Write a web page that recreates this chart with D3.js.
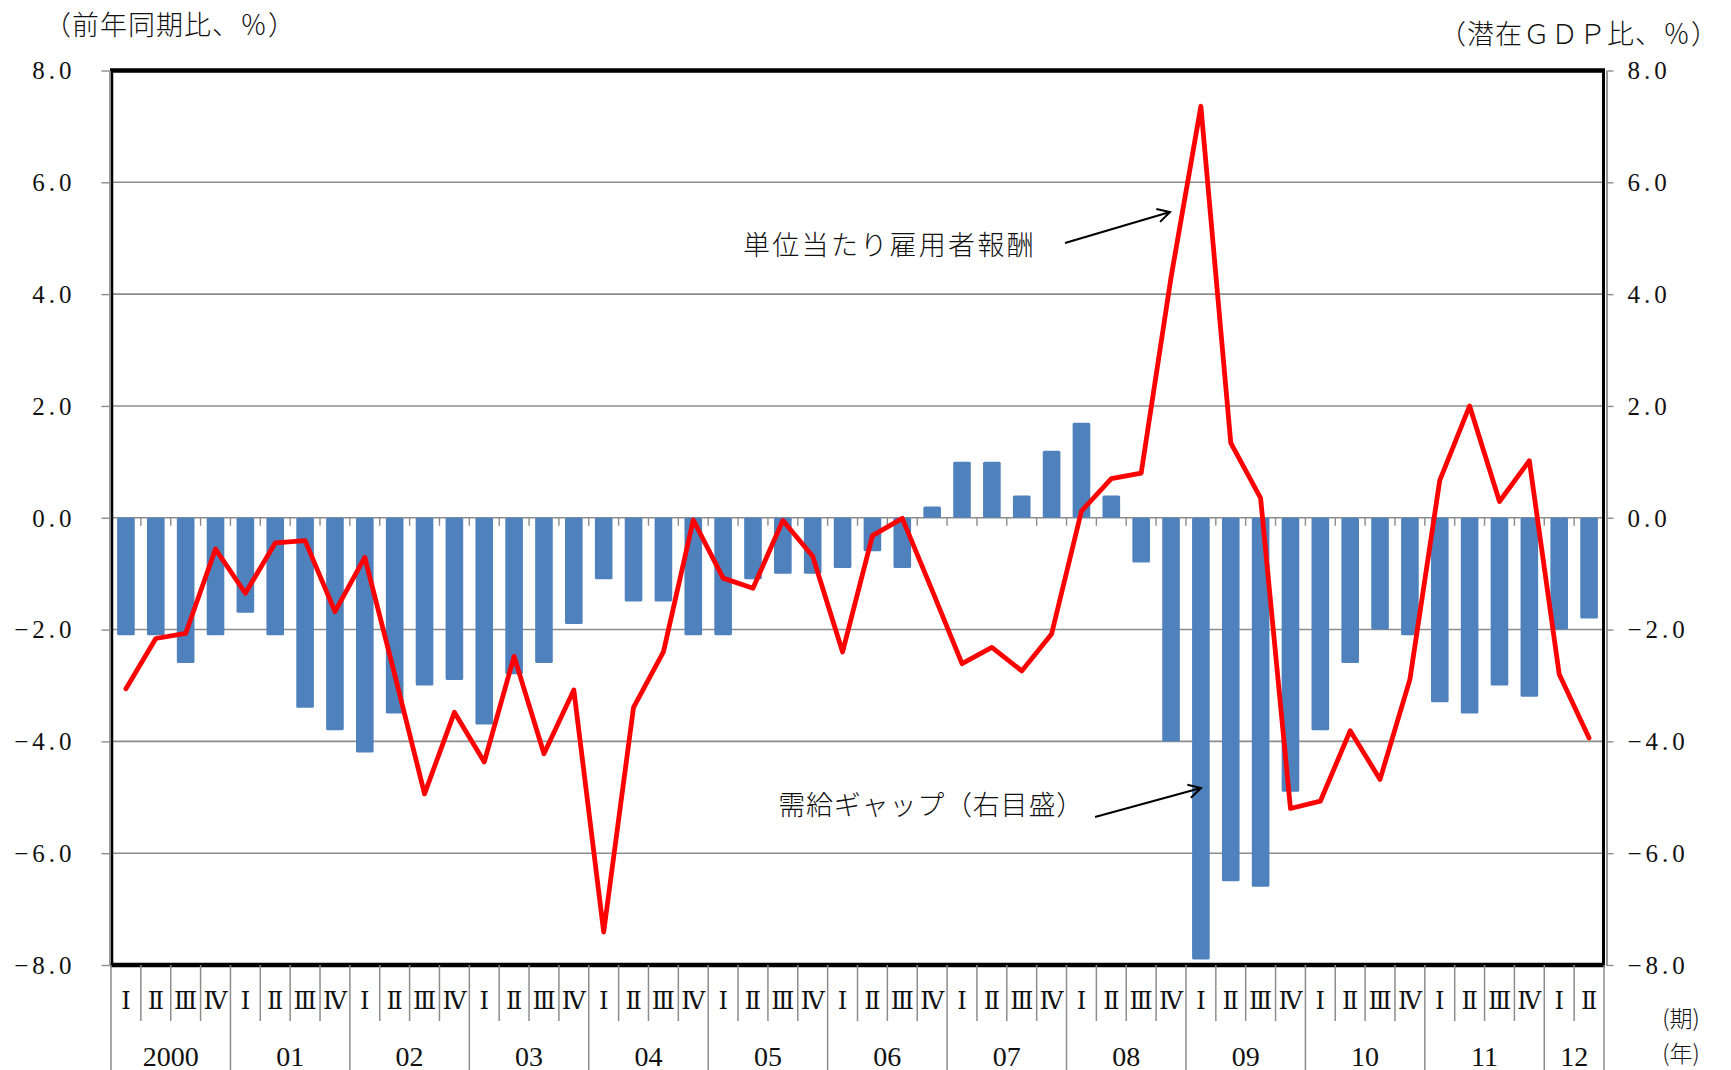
<!DOCTYPE html>
<html>
<head>
<meta charset="utf-8">
<script src="https://cdn.jsdelivr.net/npm/d3@7"></script>
<style>
  html, body { margin: 0; padding: 0; background: #fff; }
  svg { display: block; }
</style>
</head>
<body>
<svg id="chart" width="1731" height="1070"></svg>
<script>
// ---------------- DATA ----------------
const years = ["2000","01","02","03","04","05","06","07","08","09","10","11","12"];
const quarterLabels = ["Ⅰ","Ⅱ","Ⅲ","Ⅳ"];
// 2000Q1 .. 2012Q2
const quarters = [];
years.forEach((y, yi) => {
  const n = (y === "12") ? 2 : 4;
  for (let q = 0; q < n; q++) quarters.push({ year: y, q: q, key: y + "-" + (q + 1) });
});
// 単位当たり雇用者報酬 (前年同期比、%) — left axis
const unitCompensation = [
  -3.06, -2.16, -2.07, -0.56,
  -1.35, -0.45, -0.41, -1.68,
  -0.71, -2.80, -4.94, -3.48,
  -4.37, -2.48, -4.22, -3.08,
  -7.41, -3.39, -2.40, -0.04,
  -1.08, -1.26, -0.05, -0.69,
  -2.40, -0.32, -0.01, -1.30,
  -2.61, -2.32, -2.74, -2.08,
   0.12,  0.70,  0.80,  4.30,
   7.36,  1.34,  0.35, -5.20,
  -5.07, -3.81, -4.68, -2.89,
   0.67,  2.00,  0.29,  1.02,
  -2.80, -3.94
];
// 需給ギャップ (潜在GDP比、%) — right axis
const outputGap = [
  -2.1, -2.1, -2.6, -2.1,
  -1.7, -2.1, -3.4, -3.8,
  -4.2, -3.5, -3.0, -2.9,
  -3.7, -2.8, -2.6, -1.9,
  -1.1, -1.5, -1.5, -2.1,
  -2.1, -1.1, -1.0, -1.0,
  -0.9, -0.6, -0.9,  0.2,
   1.0,  1.0,  0.4,  1.2,
   1.7,  0.4, -0.8, -4.0,
  -7.9, -6.5, -6.6, -4.9,
  -3.8, -2.6, -2.0, -2.1,
  -3.3, -3.5, -3.0, -3.2,
  -2.0, -1.8
];
const yTicks = [8, 6, 4, 2, 0, -2, -4, -6, -8];
const leftTitle = "（前年同期比、％）";
const rightTitle = "（潜在ＧＤＰ比、％）";
const lineLabel = "単位当たり雇用者報酬";
const barLabel = "需給ギャップ（右目盛）";

// ---------------- LAYOUT ----------------
const svg = d3.select("#chart");
const P = { l: 111, r: 1604, t: 70.5, b: 965 };
const serif = "'Liberation Serif','DejaVu Serif','Noto Sans CJK JP',serif";
const jp = "'Noto Sans CJK JP','Noto Sans CJK SC',sans-serif";

const x = d3.scaleBand().domain(quarters.map(d => d.key)).range([P.l, P.r]).paddingInner(0).paddingOuter(0);
const yL = d3.scaleLinear().domain([-8, 8]).range([P.b, P.t]);
const yR = d3.scaleLinear().domain([-8, 8]).range([P.b, P.t]);
const grey = "#8c8c8c";

// gridlines
svg.append("g").selectAll("line").data(yTicks).join("line")
  .attr("x1", P.l).attr("x2", P.r)
  .attr("y1", d => yL(d)).attr("y2", d => yL(d))
  .attr("stroke", grey).attr("stroke-width", 1.6);

// bars
const barW = x.bandwidth() * 0.59;
svg.append("g").selectAll("rect").data(outputGap).join("rect")
  .attr("x", (d, i) => x(quarters[i].key) + (x.bandwidth() - barW) / 2)
  .attr("width", barW)
  .attr("y", d => Math.min(yR(d), yR(0)))
  .attr("height", d => Math.abs(yR(d) - yR(0)))
  .attr("rx", 1.5)
  .attr("fill", "#4f81bd");

// zero-line category ticks
const boundaries = d3.range(quarters.length + 1).map(i => P.l + i * x.bandwidth());
svg.append("g").selectAll("line").data(boundaries.slice(1, -1)).join("line")
  .attr("x1", d => d).attr("x2", d => d)
  .attr("y1", yR(0)).attr("y2", yR(0) + 8)
  .attr("stroke", grey).attr("stroke-width", 1.4);

// red line
const line = d3.line()
  .x((d, i) => x(quarters[i].key) + x.bandwidth() / 2)
  .y(d => yL(d));
svg.append("path").datum(unitCompensation)
  .attr("d", line)
  .attr("fill", "none").attr("stroke", "#ff0000")
  .attr("stroke-width", 4.8).attr("stroke-linejoin", "round").attr("stroke-linecap", "round");

// plot frame
svg.append("line").attr("x1", P.l - 1).attr("x2", P.r + 1).attr("y1", P.t).attr("y2", P.t)
  .attr("stroke", "#000").attr("stroke-width", 4.5);
svg.append("line").attr("x1", P.l - 1).attr("x2", P.r + 1).attr("y1", P.b).attr("y2", P.b)
  .attr("stroke", "#000").attr("stroke-width", 4.5);
svg.append("line").attr("x1", P.l + 1).attr("x2", P.l + 1).attr("y1", P.t).attr("y2", P.b)
  .attr("stroke", "#000").attr("stroke-width", 2.5);
svg.append("line").attr("x1", P.r - 0.5).attr("x2", P.r - 0.5).attr("y1", P.t).attr("y2", P.b)
  .attr("stroke", "#000").attr("stroke-width", 3);

// left axis
const fmt = d3.format(".1f");
const axL = svg.append("g").attr("transform", `translate(${P.l - 1.5},0)`)
  .call(d3.axisLeft(yL).tickValues(yTicks).tickSize(8).tickSizeOuter(0).tickFormat(d => fmt(d).replace("-", "−")));
axL.select(".domain").attr("stroke", grey).attr("stroke-width", 1.8);
axL.selectAll(".tick line").attr("stroke", grey).attr("stroke-width", 1.4);
axL.selectAll(".tick text").attr("x", -34)
  .style("font-family", serif).style("font-size", "25px")
  .attr("fill", "#111").attr("letter-spacing", 4).attr("dy", "0.33em");

// right axis
const axR = svg.append("g").attr("transform", `translate(${P.r + 2.5},0)`)
  .call(d3.axisRight(yR).tickValues(yTicks).tickSize(7).tickSizeOuter(0).tickFormat(d => fmt(d).replace("-", "−")));
axR.select(".domain").attr("stroke", grey).attr("stroke-width", 1.8);
axR.selectAll(".tick line").attr("stroke", grey).attr("stroke-width", 1.4);
axR.selectAll(".tick text").attr("x", 21)
  .style("font-family", serif).style("font-size", "25px")
  .attr("fill", "#111").attr("letter-spacing", 4).attr("dy", "0.33em");

// bottom category axis: quarter separators and year separators
const yearStart = [];
quarters.forEach((d, i) => { if (d.q === 0) yearStart.push(i); });
svg.append("g").selectAll("line").data(boundaries).join("line")
  .attr("x1", d => d).attr("x2", d => d)
  .attr("y1", P.b)
  .attr("y2", (d, i) => (yearStart.includes(i) || i === quarters.length) ? 1070 : 1021)
  .attr("stroke", grey).attr("stroke-width", 1.5);

// quarter labels
svg.append("g").selectAll("text").data(quarters).join("text")
  .attr("x", d => x(d.key) + x.bandwidth() / 2)
  .attr("y", 1001)
  .attr("text-anchor", "middle").attr("dominant-baseline", "central")
  .attr("font-family", "'DejaVu Serif','Liberation Serif','Noto Sans CJK JP',serif")
  .attr("font-size", 24).attr("fill", "#111")
  .text(d => quarterLabels[d.q])
  .each(function(d) {
    const w = this.getComputedTextLength();
    const maxW = x.bandwidth() - 3;
    if (w > maxW) d3.select(this).attr("textLength", maxW).attr("lengthAdjust", "spacingAndGlyphs");
  });

// year labels
svg.append("g").selectAll("text").data(years).join("text")
  .attr("x", y => {
    const idx = quarters.map((d, i) => d.year === y ? i : -1).filter(i => i >= 0);
    return (x(quarters[idx[0]].key) + x(quarters[idx[idx.length - 1]].key) + x.bandwidth()) / 2;
  })
  .attr("y", 1056)
  .attr("text-anchor", "middle").attr("dominant-baseline", "central")
  .attr("font-family", serif).attr("font-size", 28).attr("fill", "#111")
  .text(d => d);

// (期) (年)
svg.append("text").attr("x", 1681).attr("y", 1017).attr("text-anchor", "middle").attr("dominant-baseline", "central")
  .attr("font-family", jp).attr("font-size", 23).attr("font-weight", 300).attr("fill", "#111").text("(期)");
svg.append("text").attr("x", 1681).attr("y", 1052).attr("text-anchor", "middle").attr("dominant-baseline", "central")
  .attr("font-family", jp).attr("font-size", 23).attr("font-weight", 300).attr("fill", "#111").text("(年)");

// axis titles
svg.append("text").attr("x", 44).attr("y", 23).attr("dominant-baseline", "central")
  .attr("font-family", jp).attr("font-size", 27).attr("font-weight", 300).attr("letter-spacing", 1)
  .attr("fill", "#111").text(leftTitle);
svg.append("text").attr("x", 1719).attr("y", 32).attr("text-anchor", "end").attr("dominant-baseline", "central")
  .attr("font-family", jp).attr("font-size", 27).attr("font-weight", 300).attr("letter-spacing", 1)
  .attr("fill", "#111").text(rightTitle);

// annotations
function arrow(x1, y1, x2, y2) {
  const g = svg.append("g").attr("stroke", "#000").attr("stroke-width", 2).attr("fill", "none");
  g.append("line").attr("x1", x1).attr("y1", y1).attr("x2", x2).attr("y2", y2);
  const a = Math.atan2(y2 - y1, x2 - x1), L = 14, s = 0.5;
  g.append("path").attr("d",
    `M${x2 - L * Math.cos(a - s)},${y2 - L * Math.sin(a - s)} L${x2},${y2} L${x2 - L * Math.cos(a + s)},${y2 - L * Math.sin(a + s)}`);
}
svg.append("text").attr("x", 1036).attr("y", 243).attr("text-anchor", "end").attr("dominant-baseline", "central")
  .attr("font-family", jp).attr("font-size", 27).attr("font-weight", 300).attr("letter-spacing", 2.3)
  .attr("fill", "#111").text(lineLabel);
arrow(1065, 243, 1170, 212);
svg.append("text").attr("x", 1084).attr("y", 803).attr("text-anchor", "end").attr("dominant-baseline", "central")
  .attr("font-family", jp).attr("font-size", 27).attr("font-weight", 300).attr("letter-spacing", 0.8)
  .attr("fill", "#111").text(barLabel);
arrow(1095, 817, 1201, 788);
</script>
</body>
</html>
